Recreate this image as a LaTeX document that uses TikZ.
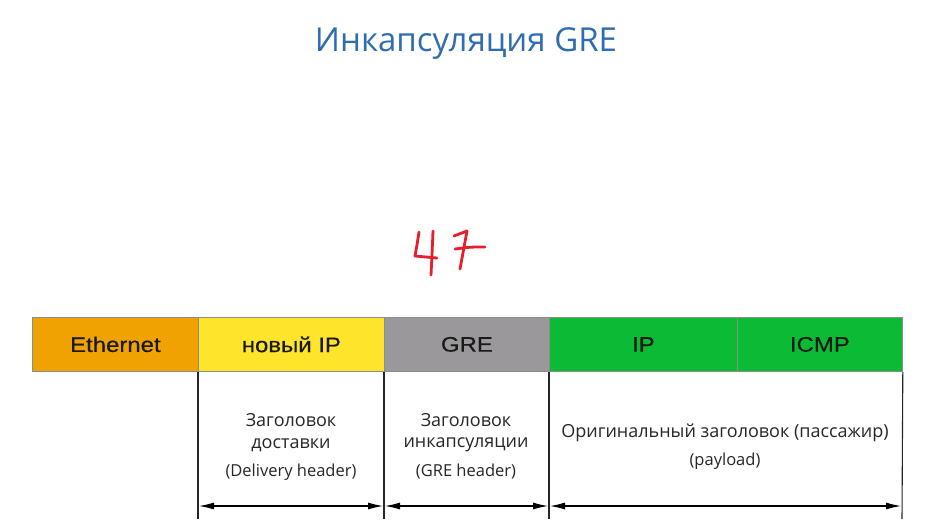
\documentclass[tikz,border=0pt]{standalone}
\usepackage{fontspec}
\setmainfont{Liberation Sans}
\newfontfamily\segfont[FakeStretch=1.14,FakeBold=0.4]{Liberation Sans}
\newfontfamily\titlefont{Open Sans}
\newfontfamily\notefont{Open Sans}
\usetikzlibrary{arrows.meta}
\definecolor{ethc}{HTML}{F0A202}
\definecolor{yelc}{HTML}{FFE42C}
\definecolor{grec}{HTML}{9A989A}
\definecolor{grnc}{HTML}{0BBB35}
\definecolor{titc}{HTML}{2F6DB2}
\definecolor{redc}{HTML}{E3202B}
\begin{document}
\begin{tikzpicture}[x=1pt,y=-1pt,
  seg/.style={draw=black!45, line width=0.8pt, minimum height=54pt, inner sep=0pt, anchor=north west,
              font=\segfont\fontsize{21}{24}\selectfont, text=black!90},
  note/.style={font=\notefont\fontsize{18}{25}\selectfont, align=center, text=black!85, inner sep=0pt},
  small/.style={font=\notefont\fontsize{16.5}{20}\selectfont},
  vline/.style={draw=black!85, line width=1.1pt},
  span/.style={draw=black, line width=1.1pt, {Latex[length=15pt,width=7pt]}-{Latex[length=15pt,width=7pt]}},
  hand/.style={draw=redc, line width=2.8pt, line cap=round, line join=round}]
\useasboundingbox (0,0) rectangle (925,525);
\fill[white] (0,0) rectangle (925,525);
% title
\node[font=\titlefont\fontsize{33}{36}\selectfont, text=titc] (title) at (466,44) {Инкапсуляция GRE};
% handwritten 47
\draw[hand] (419,232) .. controls (417,245) .. (415,256) -- (437,258);
\draw[hand] (433,231) .. controls (432,255) .. (431,275);
\draw[hand] (454,236) .. controls (460,233) .. (467,231) .. controls (464,250) .. (460,269);
\draw[hand] (455,249) .. controls (470,247) .. (485,247);
% segments
\node[seg, fill=ethc, minimum width=166pt] (eth) at (32,317) {Ethernet};
\node[seg, fill=yelc, minimum width=186pt] (nip) at (198,317) {новый IP};
\node[seg, fill=grec, minimum width=165pt] (gre) at (384,317) {GRE};
\node[seg, fill=grnc, minimum width=188pt] (ip) at (549,317) {IP};
\node[seg, fill=grnc, minimum width=165pt] (icmp) at (737,317) {ICMP};
% vertical lines
\coordinate (b1) at (198,519);
\coordinate (b2) at (384,519);
\coordinate (b3) at (549,519);
\coordinate (b4) at (902,519);
\draw[vline] (nip.south west) -- (b1);
\draw[vline] (gre.south west) -- (b2);
\draw[vline] (ip.south west) -- (b3);
\draw[vline] (icmp.south east) -- (b4);
% spans
\coordinate (a1) at (199,506);
\coordinate (a2) at (383,506);
\coordinate (a3) at (385,506);
\coordinate (a4) at (548,506);
\coordinate (a5) at (550,506);
\coordinate (a6) at (901,506);
\draw[span] (a1) -- (a2);
\draw[span] (a3) -- (a4);
\draw[span] (a5) -- (a6);
% notes
\node[note] (n1) at (291,420) {Заголовок};
\node[note] (n1b) at (291,445) {доставки};
\node[note, small] (n1c) at (291,472) {(Delivery header)};
\node[note] (n2) at (466,420) {Заголовок};
\node[note] (n2b) at (466,445) {инкапсуляции};
\node[note, small] (n2c) at (466,472) {(GRE header)};
\node[note] (n3) at (725,433) {Оригинальный заголовок (пассажир)};
\node[note, small] (n3b) at (725,461) {(payload)};
\end{tikzpicture}
\end{document}
